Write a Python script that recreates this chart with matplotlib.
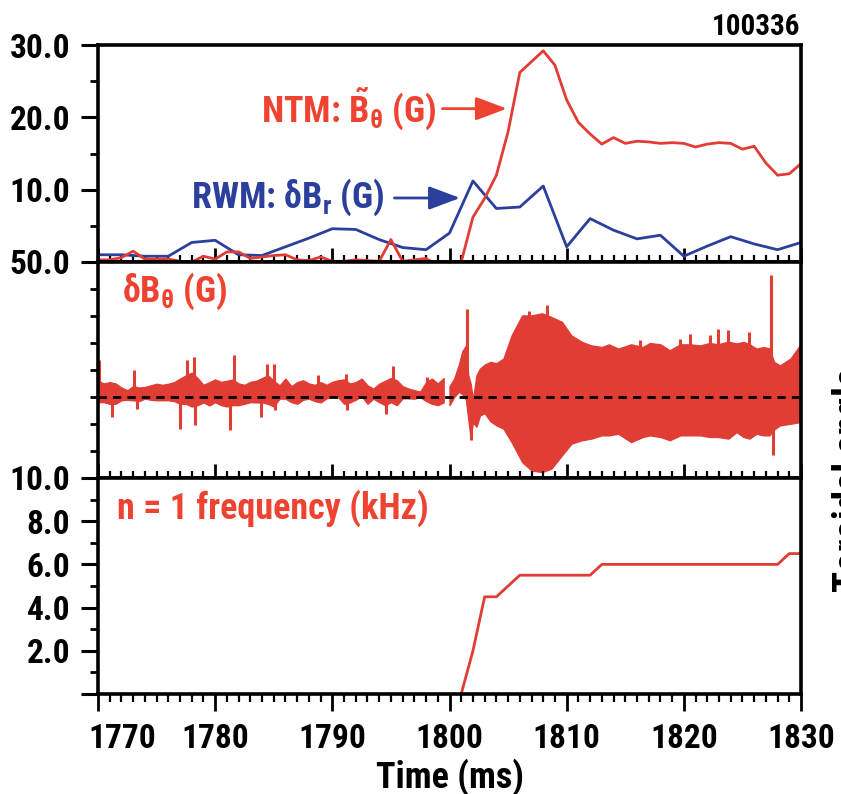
import matplotlib
matplotlib.use('Agg')
import matplotlib.pyplot as plt
import matplotlib.transforms as mtransforms
from matplotlib import font_manager
from matplotlib.ticker import FixedLocator, MultipleLocator
import numpy as np

# --- данные ---
# верхняя панель: амплитуды NTM и RWM (G)
rwm_time = [1770, 1772, 1774, 1776, 1778, 1780, 1782, 1784, 1786, 1788, 1790,
            1792, 1794, 1796, 1798, 1800, 1802, 1804, 1806, 1808, 1810, 1812,
            1814, 1816, 1818, 1820, 1822, 1824, 1826, 1828, 1830]
rwm_amp = [1.0, 1.0, 0.8, 0.8, 2.7, 3.0, 1.0, 0.9, 2.1, 3.3, 4.6,
           4.5, 3.1, 2.0, 1.7, 4.0, 11.2, 7.4, 7.6, 10.5, 2.1, 6.0,
           4.4, 3.2, 3.7, 0.8, 2.2, 3.5, 2.5, 1.7, 2.7]

ntm_time = list(range(1770, 1831))
ntm_amp = [0.3, 0.3, 0.6, 1.5, 0.4, 0.4, 0.4, 0.1, 0.0, 0.8,
           0.4, 1.4, 1.4, 0.5, 0.7, 0.9, 1.0, 0.3, 0.2, 0.7,
           0.1, 0.1, 0.3, 0.2, 0.1, 3.1, 0.1, 0.3, 0.5, -0.5,
           -0.5, 0.0, 6.2, 8.8, 12.0, 18.0, 26.2, 27.7, 29.2, 27.2,
           22.4, 19.3, 17.7, 16.3, 17.2, 16.4, 16.7, 16.6, 16.4, 16.5,
           16.4, 15.9, 16.3, 16.5, 16.4, 15.6, 16.0, 13.7, 12.0, 12.2,
           13.6]

# средняя панель: огибающая сигнала dB_theta (G)
# до 1800 мс огибающая снята через каждые 0.5 мс
quiet_time = np.arange(1770.0, 1800.0, 0.5)
quiet_upper = [6.0, 5.0, 5.5, 5.0, 3.5, 2.5, 4.0, 3.5, 3.7, 4.3,
               4.9, 4.5, 4.9, 5.5, 6.8, 8.0, 9.0, 7.0, 4.5, 5.5,
               6.5, 5.6, 6.0, 6.5, 5.0, 4.5, 5.6, 6.0, 7.0, 8.0,
               6.0, 4.3, 6.8, 4.0, 5.5, 6.2, 5.0, 4.5, 5.5, 4.5,
               5.6, 6.2, 6.5, 5.0, 5.5, 6.8, 4.3, 3.1, 4.9, 6.0,
               7.0, 6.2, 4.0, 3.1, 2.5, 2.0, 5.5, 6.8, 5.0, 7.0]
quiet_lower = [-1.9, -1.9, -2.5, -2.5, -1.2, -1.0, -1.2, -1.5, -0.6, -1.0,
               -1.2, -1.2, -1.2, -1.5, -2.5, -2.5, -3.5, -3.0, -2.0, -3.1,
               -1.9, -3.0, -3.5, -3.0, -3.0, -2.5, -1.9, -2.0, -2.0, -2.5,
               -3.5, -0.6, -0.6, -1.9, -2.5, -1.0, -0.6, -1.5, -2.0, -0.5,
               0.0, 0.0, -2.5, -2.0, -1.0, 0.3, -2.5, -0.6, -1.9, -3.0,
               -1.9, -3.0, -0.5, -0.5, -0.6, 0.0, -1.5, -2.5, -3.0, -2.0]

# после 1800 мс — развитие моды
mode_time = [1800.0, 1800.4, 1800.8, 1801.1, 1801.4, 1801.6, 1801.8, 1802.0, 1802.3, 1802.6,
             1803.0, 1803.5, 1804.0, 1804.6, 1805.3, 1806.2, 1807.0, 1807.9, 1808.7, 1809.6,
             1810.4, 1811.3, 1812.1, 1813.0, 1813.6, 1814.4, 1815.5, 1816.5, 1817.1, 1818.0,
             1818.8, 1819.7, 1820.5, 1821.4, 1822.2, 1822.9, 1823.8, 1824.5, 1825.1, 1825.6,
             1826.2, 1826.8, 1827.3, 1827.7, 1828.2, 1829.1, 1829.9, 1830.0]
mode_upper = [4.0, 6.8, 12.0, 17.0, 19.0, 8.0, 5.0, -1.0, 8.0, 10.5,
              12.0, 13.0, 12.5, 14.2, 22.8, 30.2, 30.2, 31.0, 29.6, 27.8,
              22.8, 20.4, 19.1, 18.5, 19.5, 17.9, 19.5, 18.5, 20.0, 19.5,
              17.3, 19.5, 19.5, 19.1, 20.0, 19.5, 20.5, 19.8, 20.4, 19.5,
              17.9, 18.5, 18.0, 13.0, 11.7, 14.2, 19.1, 19.5]
mode_lower = [-3.0, 0.0, 2.0, 1.0, -1.0, -8.0, -15.0, -9.3, -11.0, -6.8,
              -6.0, -9.0, -10.5, -11.7, -16.7, -24.1, -27.2, -27.8, -26.5, -21.6,
              -17.3, -16.0, -15.4, -14.2, -14.2, -13.6, -16.7, -14.8, -14.2, -14.8,
              -16.0, -14.2, -14.2, -14.2, -14.8, -14.8, -15.4, -13.0, -14.8, -15.4,
              -13.6, -14.2, -14.2, -12.0, -10.5, -9.9, -9.3, -9.3]

# отдельные узкие выбросы сигнала
spike_time = [1770.05, 1771.2, 1773.1, 1773.3, 1777.0, 1777.6, 1778.2, 1778.3, 1781.3, 1781.6,
              1783.9, 1784.4, 1785.0, 1785.1, 1788.8, 1791.2, 1791.25, 1794.6, 1795.2, 1798.1,
              1801.5, 1801.8, 1806.8, 1808.3, 1816.3, 1819.7, 1820.5, 1822.2, 1822.9, 1823.8,
              1825.6, 1827.4, 1827.6]
spike_value = [13.6, -7.4, 9.9, -4.3, -11.7, 13.6, 14.8, -10.5, -12.3, 15.7,
               -7.4, 12.3, 12.3, -4.9, 8.0, 8.6, -4.9, -6.2, 11.5, 7.4,
               32.7, -16.0, 32.0, 34.0, 21.0, 21.6, 23.5, 22.8, 25.3, 24.7,
               24.1, 45.1, -21.6]

# нижняя панель: частота моды n = 1 (kHz)
freq_time = [1801, 1802, 1803, 1804, 1806, 1812, 1813, 1828, 1829, 1830]
freq_khz = [0.0, 2.0, 4.5, 4.5, 5.5, 5.5, 6.0, 6.0, 6.5, 6.5]

x_ticks = [1770, 1780, 1790, 1800, 1810, 1820, 1830]

RED = '#e03d35'
RED_TEXT = '#ee4330'
BLUE = '#2b3f9c'

# узкий шрифт, если есть; иначе Liberation Sans
installed = {f.name for f in font_manager.fontManager.ttflist}
FONT = 'Liberation Sans'
for name in ['Roboto Condensed', 'Liberation Sans Narrow', 'DejaVu Sans Condensed']:
    if name in installed:
        FONT = name
        break

plt.rcParams['font.family'] = [FONT, 'DejaVu Sans']
plt.rcParams['font.weight'] = 'bold'
plt.rcParams['mathtext.fontset'] = 'custom'
plt.rcParams['mathtext.rm'] = FONT + ':bold'
plt.rcParams['mathtext.bf'] = FONT + ':bold'
plt.rcParams['mathtext.it'] = FONT + ':bold'
plt.rcParams['axes.linewidth'] = 2.6

fig = plt.figure(figsize=(8.41, 7.94), dpi=100)

W, H = 841, 794
left, right = 98 / W, 801 / W
ax1 = fig.add_axes([left, 1 - 262 / H, right - left, 217 / H])
ax2 = fig.add_axes([left, 1 - 478 / H, right - left, 216 / H])
ax3 = fig.add_axes([left, 1 - 694 / H, right - left, 216 / H])

TICK_FS = 24
LABEL_FS = 26

for ax in (ax1, ax2, ax3):
    ax.set_xlim(1770, 1830)
    ax.xaxis.set_major_locator(FixedLocator(x_ticks))
    ax.xaxis.set_minor_locator(MultipleLocator(1))
    ax.tick_params(axis='y', which='major', direction='out', length=12, width=2.2,
                   labelsize=TICK_FS, pad=8)
    ax.tick_params(axis='y', which='minor', direction='out', length=6, width=2.0)

for ax in (ax1, ax2):
    ax.tick_params(axis='x', which='major', direction='in', length=10, width=2.0,
                   labelbottom=False)
    ax.tick_params(axis='x', which='minor', direction='in', length=5, width=1.6)

ax3.tick_params(axis='x', which='major', direction='out', length=12, width=2.0,
                labelsize=TICK_FS, pad=9)
ax3.tick_params(axis='x', which='minor', direction='out', length=6, width=1.6)

ARROW = '-|>,head_length=1.2,head_width=0.45'

# верхняя панель
ax1.plot(rwm_time, rwm_amp, color=BLUE, linewidth=2.0)
ax1.plot(ntm_time, ntm_amp, color=RED, linewidth=2.0)
ax1.set_ylim(0, 30)
ax1.yaxis.set_major_locator(FixedLocator([10, 20, 30]))
ax1.yaxis.set_minor_locator(FixedLocator([0, 5, 15, 25]))
ax1.set_yticklabels(['10.0', '20.0', '30.0'])

ax1.text(1798.9, 19.2, r'NTM: $\tilde{\mathbf{B}}_{\theta}$ (G)', color=RED_TEXT,
         fontsize=LABEL_FS, ha='right', va='baseline')
ax1.annotate('', xy=(1804.9, 21.2), xytext=(1799.4, 21.2),
             arrowprops=dict(arrowstyle=ARROW, mutation_scale=16,
                             color=RED_TEXT, lw=2.0, shrinkA=0, shrinkB=0))
ax1.text(1794.5, 7.5, r'RWM: $\delta\mathbf{B}_{\mathbf{r}}$ (G)', color=BLUE,
         fontsize=LABEL_FS, ha='right', va='baseline')
ax1.annotate('', xy=(1800.9, 8.85), xytext=(1795.3, 8.85),
             arrowprops=dict(arrowstyle=ARROW, mutation_scale=16,
                             color=BLUE, lw=2.0, shrinkA=0, shrinkB=0))

fig.text(800 / W, 1 - 27 / H, '100336', fontsize=21, ha='right', va='center')

# средняя панель
ax2.fill_between(quiet_time, quiet_lower, quiet_upper, color=RED, linewidth=1.0)
ax2.fill_between(mode_time, mode_lower, mode_upper, color=RED, linewidth=1.0)
ax2.vlines(spike_time, 0, spike_value, color=RED, linewidth=2.2)
ax2.axhline(0, color='black', linestyle=(0, (3, 2.2)), linewidth=2.0)
ax2.set_ylim(-30, 50)
ax2.yaxis.set_major_locator(FixedLocator([50]))
ax2.yaxis.set_minor_locator(FixedLocator([-30, -20, -10, 0, 10, 20, 30, 40]))
ax2.set_yticklabels(['50.0'])
ax2.text(0.034, 0.815, r'$\delta\mathbf{B}_{\theta}$ (G)', transform=ax2.transAxes,
         color=RED_TEXT, fontsize=LABEL_FS, ha='left', va='baseline')

# нижняя панель
ax3.plot(freq_time, freq_khz, color=RED, linewidth=2.0)
ax3.set_ylim(0, 10)
ax3.yaxis.set_major_locator(FixedLocator([0, 2, 4, 6, 8, 10]))
ax3.yaxis.set_minor_locator(FixedLocator([1, 3, 5, 7, 9]))
ax3.set_yticklabels(['', '2.0', '4.0', '6.0', '8.0', '10.0'])
ax3.set_xticklabels([str(t) for t in x_ticks])
ax3.set_xlabel('Time (ms)', fontsize=LABEL_FS, fontweight='bold', labelpad=2)
ax3.text(0.027, 0.81, 'n = 1 frequency (kHz)', transform=ax3.transAxes,
         color=RED_TEXT, fontsize=LABEL_FS, ha='left', va='baseline')

# первая подпись оси X сдвинута вправо, как в оригинале
first = ax3.xaxis.get_major_ticks()[0].label1
first.set_transform(first.get_transform() +
                    mtransforms.ScaledTranslation(24 / 100, 0, fig.dpi_scale_trans))

# обрезанная подпись соседнего рисунка у правого края
fig.text(832 / W, 1 - 592 / H, 'Toroidal angle', fontsize=28, rotation=90,
         ha='left', va='bottom')

fig.savefig('out.png', dpi=100)
